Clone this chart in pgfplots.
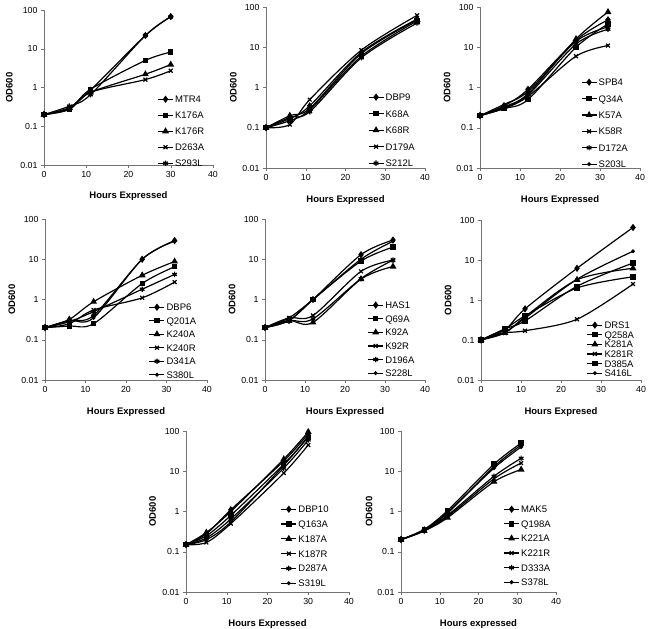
\documentclass[border=0pt]{standalone}
\usepackage{pgfplots}
\pgfplotsset{compat=1.18}
\usepackage{fontspec}
\setmainfont{Liberation Sans}

\pgfplotscreateplotcyclelist{excel}{
  {black,mark=diamond*,mark size=2.7pt,mark options={solid}},
  {black,mark=square*,mark size=2.1pt,mark options={solid}},
  {black,mark=triangle*,mark size=2.8pt,mark options={solid}},
  {black,mark=x,mark size=2.7pt,mark options={solid}},
  {black,mark=asterisk,mark size=2.7pt,mark options={solid}},
  {black,mark=*,mark size=1.3pt,mark options={solid}},
}

\pgfplotsset{
  scale only axis,
  xmin=0, xmax=40, ymin=0.01, ymax=100,
  xtick={0,10,20,30,40},
  ytick={0.01,0.1,1,10,100},
  yticklabels={0.01,0.1,1,10,100},
  yminorticks=false,
  axis lines=left, axis line style={-, black!55},
  tick align=outside, major tick length=3pt, tick style={black!55},
  label style={font=\bfseries\fontsize{9.5}{11}\selectfont},
  xlabel style={at={(axis description cs:0.5,-0.2)}, anchor=center},
  ylabel style={at={(axis description cs:-0.205,0.5)}, anchor=center},
  tick label style={font=\fontsize{8.8}{10}\selectfont},
  /pgf/number format/assume math mode=true,
  cycle list name=excel,
  every axis plot/.append style={line width=1.2pt, smooth, tension=0.5},
  legend cell align=left,
  legend style={draw=none, fill=none, anchor=north west, inner sep=0pt,
    font=\fontsize{9.5}{11}\selectfont, column sep=1.5pt,
    nodes={inner sep=0pt, text height=7pt, text depth=0pt}},
  legend image code/.code={
    \draw[#1] (0pt,0pt) -- (15pt,0pt);
    \draw[#1, only marks] plot coordinates {(7.5pt,0pt)};
  },
}

\begin{document}
\begin{tikzpicture}
\useasboundingbox (0,0) rectangle (648pt,629pt);

% MTR4
\begin{axis}[ymode=log, anchor=south west, at={(44pt,464pt)}, width=169pt, height=155pt,
  xlabel={Hours Expressed}, ylabel={OD600},
  legend style={at={(0.67,0.448)}, row sep=9pt}]
\addplot coordinates {(0,0.2)(6,0.3)(11,0.85)(24,22)(30,68)};
\addplot coordinates {(0,0.2)(6,0.28)(11,0.9)(24,5)(30,8.2)};
\addplot coordinates {(0,0.2)(6,0.3)(11,0.75)(24,2.2)(30,3.9)};
\addplot coordinates {(0,0.2)(6,0.27)(11,0.75)(24,1.6)(30,2.7)};
\addplot coordinates {(0,0.2)(6,0.33)(11,0.65)(24,22)(30,66)};
\legend{MTR4,K176A,K176R,D263A,S293L}
\end{axis}

% DBP9
\begin{axis}[ymode=log, anchor=south west, at={(266pt,461pt)}, width=159pt, height=161pt,
  xlabel={Hours Expressed}, ylabel={OD600},
  legend style={at={(0.64,0.463)}, row sep=9.5pt}]
\addplot coordinates {(0,0.1)(6,0.17)(11,0.35)(24,7.5)(38,50)};
\addplot coordinates {(0,0.1)(6,0.15)(11,0.28)(24,6)(38,45)};
\addplot coordinates {(0,0.1)(6,0.2)(11,0.3)(24,7)(38,48)};
\addplot coordinates {(0,0.1)(6,0.12)(11,0.5)(24,8.5)(38,62)};
\addplot coordinates {(0,0.1)(6,0.18)(11,0.25)(24,5.5)(38,40)};
\legend{DBP9,K68A,K68R,D179A,S212L}
\end{axis}

% SPB4
\begin{axis}[ymode=log, anchor=south west, at={(480pt,461pt)}, width=160pt, height=161pt,
  xlabel={Hours Expressed}, ylabel={OD600},
  legend style={at={(0.63,0.556)}, row sep=9.4pt}]
\addplot coordinates {(0,0.2)(6,0.35)(12,0.9)(24,15)(32,48)};
\addplot coordinates {(0,0.2)(6,0.3)(12,0.5)(24,10)(32,38)};
\addplot coordinates {(0,0.2)(6,0.33)(12,0.7)(24,16)(32,75)};
\addplot coordinates {(0,0.2)(6,0.3)(12,0.6)(24,6)(32,11)};
\addplot coordinates {(0,0.2)(6,0.32)(12,0.65)(24,12)(32,28)};
\addplot coordinates {(0,0.2)(6,0.38)(12,0.8)(24,14)(32,32)};
\legend{SPB4,Q34A,K57A,K58R,D172A,S203L}
\end{axis}

% DBP6
\begin{axis}[ymode=log, anchor=south west, at={(45pt,249pt)}, width=162pt, height=161pt,
  xlabel={Hours Expressed}, ylabel={OD600},
  legend style={at={(0.64,0.475)}, row sep=6.5pt}]
\addplot coordinates {(0,0.2)(6,0.3)(12,0.4)(24,10)(32,29)};
\addplot coordinates {(0,0.2)(6,0.22)(12,0.25)(24,2.5)(32,6.5)};
\addplot coordinates {(0,0.2)(6,0.32)(12,0.88)(24,4)(32,8.8)};
\addplot coordinates {(0,0.2)(6,0.25)(12,0.55)(24,1.1)(32,2.7)};
\addplot coordinates {(0,0.2)(6,0.28)(12,0.5)(24,1.8)(32,4.2)};
\addplot coordinates {(0,0.2)(6,0.3)(12,0.35)(24,10)(32,28)};
\legend{DBP6,Q201A,K240A,K240R,D341A,S380L}
\end{axis}

% HAS1
\begin{axis}[ymode=log, anchor=south west, at={(265pt,249pt)}, width=160pt, height=161pt,
  xlabel={Hours Expressed}, ylabel={OD600},
  legend style={at={(0.64,0.488)}, row sep=6.6pt}]
\addplot coordinates {(0,0.2)(6,0.3)(12,1.0)(24,13)(32,30)};
\addplot coordinates {(0,0.2)(6,0.3)(12,1.0)(24,9)(32,20)};
\addplot coordinates {(0,0.2)(6,0.3)(12,0.27)(24,3.2)(32,6.6)};
\addplot coordinates {(0,0.2)(6,0.35)(12,0.4)(24,5)(32,9.5)};
\addplot coordinates {(0,0.2)(6,0.3)(12,0.33)(24,3.3)(32,9.5)};
\addplot coordinates {(0,0.2)(6,0.35)(12,1.0)(24,10)(32,28)};
\legend{HAS1,Q69A,K92A,K92R,D196A,S228L}
\end{axis}

% DRS1
\begin{axis}[ymode=log, anchor=south west, at={(481pt,249pt)}, width=160pt, height=160pt,
  xlabel={Hours Expresed}, ylabel={OD600},
  legend style={at={(0.66,0.366)}, row sep=2.6pt}]
\addplot coordinates {(0,0.1)(6,0.18)(11,0.6)(24,6.2)(38,65)};
\addplot coordinates {(0,0.1)(6,0.19)(11,0.4)(24,2.0)(38,3.8)};
\addplot coordinates {(0,0.1)(6,0.15)(11,0.38)(24,3.2)(38,6.2)};
\addplot coordinates {(0,0.1)(6,0.15)(11,0.17)(24,0.33)(38,2.5)};
\addplot[black,mark=square*,mark size=2.1pt,mark options={solid}] coordinates {(0,0.1)(6,0.19)(11,0.3)(24,2.2)(38,8.4)};
\addplot coordinates {(0,0.1)(6,0.16)(11,0.35)(24,3.3)(38,16.5)};
\legend{DRS1,Q258A,K281A,K281R,D385A,S416L}
\end{axis}

% DBP10
\begin{axis}[ymode=log, anchor=south west, at={(186pt,37pt)}, width=163pt, height=161pt,
  xlabel={Hours Expressed}, ylabel={OD600},
  legend style={at={(0.58,0.537)}, row sep=7.8pt}]
\addplot coordinates {(0,0.15)(5,0.28)(11,1.1)(24,18)(30,85)};
\addplot coordinates {(0,0.15)(5,0.25)(11,0.8)(24,15)(30,70)};
\addplot coordinates {(0,0.15)(5,0.3)(11,1.0)(24,20)(30,95)};
\addplot coordinates {(0,0.15)(5,0.17)(11,0.5)(24,9)(30,45)};
\addplot coordinates {(0,0.15)(5,0.22)(11,0.65)(24,12)(30,60)};
\addplot coordinates {(0,0.15)(5,0.2)(11,0.55)(24,14)(30,75)};
\legend{DBP10,Q163A,K187A,K187R,D287A,S319L}
\end{axis}

% MAK5
\begin{axis}[ymode=log, anchor=south west, at={(401pt,37pt)}, width=155pt, height=161pt,
  xlabel={Hours expressed}, ylabel={OD600},
  legend style={at={(0.66,0.537)}, row sep=7.6pt}]
\addplot coordinates {(0,0.2)(6,0.35)(12,0.9)(24,13)(31,45)};
\addplot coordinates {(0,0.2)(6,0.36)(12,1.05)(24,15)(31,50)};
\addplot coordinates {(0,0.2)(6,0.33)(12,0.7)(24,5.5)(31,11)};
\addplot coordinates {(0,0.2)(6,0.34)(12,0.75)(24,6.5)(31,16)};
\addplot coordinates {(0,0.2)(6,0.33)(12,0.8)(24,7.5)(31,21)};
\addplot coordinates {(0,0.2)(6,0.35)(12,0.95)(24,12)(31,40)};
\legend{MAK5,Q198A,K221A,K221R,D333A,S378L}
\end{axis}
\end{tikzpicture}
\end{document}
